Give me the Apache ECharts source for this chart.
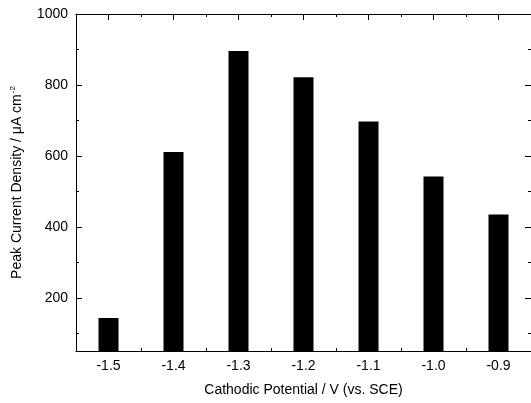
<!DOCTYPE html>
<html>
<head>
<meta charset="utf-8">
<script src="https://cdn.jsdelivr.net/npm/echarts@6/dist/echarts.min.js"></script>
<style>
  html, body { margin: 0; padding: 0; background: #fff; }
  #chart { width: 531px; height: 403px; }
</style>
</head>
<body>
<div id="chart"></div>
<script>
// Cathodic potential (V vs. SCE) and the peak current density at each
const potentials = ['-1.5', '-1.4', '-1.3', '-1.2', '-1.1', '-1.0', '-0.9'];
const peakCurrent = [143, 611, 896, 822, 697, 542, 435];
const yMajorTicks = [200, 400, 600, 800, 1000];
const yMinorTicks = [100, 300, 500, 700, 900];

const FONT = 'Liberation Sans, Arial, sans-serif';
const black = '#000';

const chart = echarts.init(document.getElementById('chart'));

function xTickAxis(position, aligned, len, showLine) {
  return {
    type: 'category',
    position: position,
    data: potentials,
    boundaryGap: true,
    axisLine: { show: showLine, lineStyle: { color: black, width: 1 } },
    axisTick: { show: true, inside: true, alignWithLabel: aligned, length: len,
                lineStyle: { color: black, width: 1 } },
    axisLabel: { show: false },
    splitLine: { show: false }
  };
}

function yTickAxis(position, ticks, len, showLine) {
  return {
    type: 'value',
    position: position,
    min: 50,
    max: 1000,
    axisLine: { show: showLine, lineStyle: { color: black, width: 1 } },
    axisTick: { show: true, inside: true, length: len, customValues: ticks,
                lineStyle: { color: black, width: 1 } },
    axisLabel: { show: false },
    splitLine: { show: false }
  };
}

const mainX = {
  type: 'category',
  position: 'bottom',
  data: potentials,
  boundaryGap: true,
  axisLine: { show: true, lineStyle: { color: black, width: 1 } },
  axisTick: { show: true, inside: true, alignWithLabel: true, length: 6,
              lineStyle: { color: black, width: 1 } },
  axisLabel: { color: black, fontFamily: FONT, fontSize: 14, margin: 8 },
  name: 'Cathodic Potential / V (vs. SCE)',
  nameLocation: 'middle',
  nameGap: 32,
  nameTextStyle: { color: black, fontFamily: FONT, fontSize: 14 },
  splitLine: { show: false }
};

const mainY = {
  type: 'value',
  position: 'left',
  min: 50,
  max: 1000,
  axisLine: { show: true, lineStyle: { color: black, width: 1 } },
  axisTick: { show: true, inside: true, length: 6, customValues: yMajorTicks,
              lineStyle: { color: black, width: 1 } },
  axisLabel: { color: black, fontFamily: FONT, fontSize: 14, margin: 8,
               customValues: yMajorTicks,
               formatter: function (v) { return String(v); } },
  name: 'Peak Current Density / \u03bcA cm{sup|-2}',
  nameLocation: 'middle',
  nameGap: 50,
  nameTextStyle: {
    color: black, fontFamily: FONT, fontSize: 14,
    rich: { sup: { fontSize: 8, fontFamily: FONT, color: black, verticalAlign: 'bottom', padding: [0, 0, 9, 1] } }
  },
  splitLine: { show: false }
};

chart.setOption({
  animation: false,
  backgroundColor: '#fff',
  grid: { left: 76, top: 14, right: -2, bottom: 52, containLabel: false },
  xAxis: [
    mainX,
    xTickAxis('bottom', false, 3, false),
    xTickAxis('top', true, 6, true),
    xTickAxis('top', false, 3, false)
  ],
  yAxis: [
    mainY,
    yTickAxis('left', yMinorTicks, 3, false),
    yTickAxis('right', yMajorTicks, 6, true),
    yTickAxis('right', yMinorTicks, 3, false)
  ],
  series: [{
    type: 'bar',
    xAxisIndex: 0,
    yAxisIndex: 0,
    data: peakCurrent,
    barWidth: 20,
    itemStyle: { color: black },
    z: 1
  }]
});
</script>
</body>
</html>
